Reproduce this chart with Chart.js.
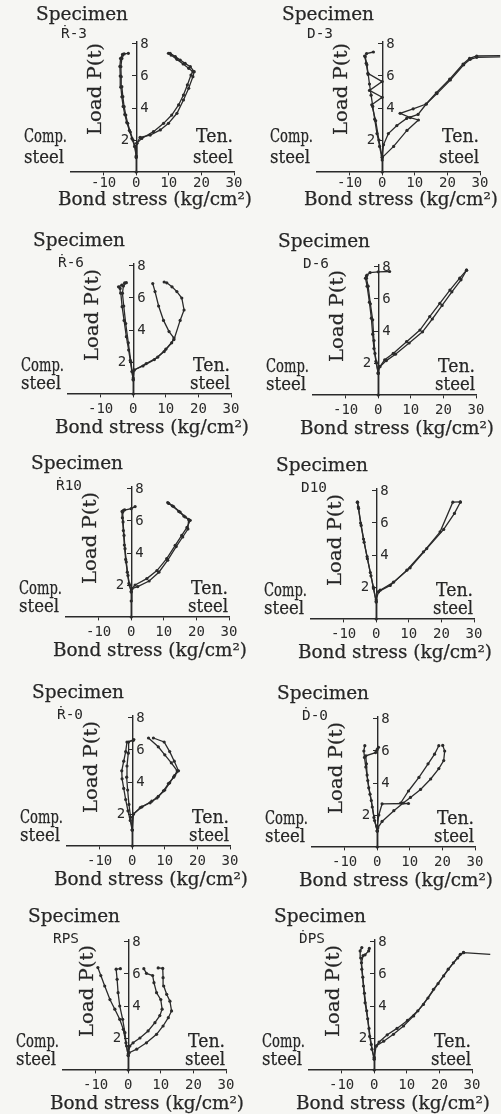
<!DOCTYPE html>
<html>
<head>
<meta charset="utf-8">
<script src="https://cdn.jsdelivr.net/npm/chart.js@4.4.0/dist/chart.umd.min.js"></script>
<style>
  body { margin: 0; background: #f6f6f3; }
  #page { position: relative; width: 501px; height: 1114px; overflow: hidden; background: #f6f6f3; }
  #page canvas { position: absolute; }
  #labels { position: absolute; left: 0; top: 0; pointer-events: none; }
  .serif { font-family: "DejaVu Serif", serif; font-size: 18px; fill: #262626; stroke: #262626; stroke-width: 0.25; }
  .mono { font-family: "DejaVu Sans Mono", monospace; font-size: 14px; fill: #262626; }
</style>
</head>
<body>
<div id="page"></div>
<script>
// bond stress (kg/cm2) vs load P (t)
const specimens = ['Ṙ-3', 'D-3', 'Ṙ-6', 'D-6', 'Ṙ10', 'D10', 'Ṙ-0', 'Ḋ-0', 'RPS', 'ḊPS'];
const xTicks = [-10, 0, 10, 20, 30];
const yTicks = [2, 4, 6, 8];

const r3Comp1 = [[0,0],[0,0.96],[-0.3,1.58],[-1.0,2.0],[-1.8,2.5],[-2.6,3.04],[-3.2,3.56],[-3.7,4.08],[-4.1,4.71],[-4.4,5.33],[-4.6,5.96],[-4.7,6.58],[-4.4,7.1],[-3.7,7.38],[-2.4,7.42]];
const r3Comp2 = [[0,1.0],[-0.5,1.6],[-1.3,2.1],[-2.1,2.6],[-2.9,3.1],[-3.5,3.6],[-4.0,4.1],[-4.4,4.7],[-4.7,5.3],[-4.9,6.0],[-5.0,6.6],[-4.8,7.1],[-4.2,7.35]];
const r3Ten1 = [[0,0.9],[0.2,1.79],[1.2,2.17],[4.3,2.31],[7.4,2.63],[9.9,3.04],[12.5,3.67],[14.5,4.5],[16.1,5.23],[17.4,5.96],[17.8,6.27],[16.6,6.58],[15.0,6.79],[13.5,7.0],[12.0,7.21],[10.4,7.42]];
const r3Ten2 = [[0.2,1.79],[1.7,2.1],[5.3,2.52],[8.4,3.04],[10.9,3.56],[13.0,4.19],[14.5,4.81],[15.7,5.44],[16.8,6.06],[17.4,6.27],[16.1,6.48],[14.4,6.75],[12.5,7.04],[10.7,7.31],[9.9,7.42]];

const d3Comp1 = [[0,0],[0,0.75],[-0.8,1.6],[-1.6,2.4],[-2.3,3.3],[-2.9,4.1],[-3.4,4.8],[-3.9,5.5],[-4.3,6.1],[-4.7,6.7],[-5.2,7.2],[-4.8,7.4],[-2.7,7.5]];
const d3Comp2 = [[0,0.9],[-1.0,2.0],[-2.0,3.2],[-3.2,4.2],[0,4.67],[-3.9,5.1],[0,5.65],[-4.4,6.17],[-4.9,6.8],[-5.4,7.25]];
const d3Ten1 = [[0,0.9],[3.5,1.6],[7.6,2.6],[11.1,3.25],[8.6,3.4],[5.5,3.67],[9.5,3.95],[13.5,4.25],[16.8,4.9],[20.9,5.75],[25,6.7],[27,7.04],[29,7.17],[36.2,7.2]];
const d3Ten2 = [[0,1.0],[0.4,1.7],[1.9,2.4],[4.5,2.9],[7.5,3.35],[11,3.6],[13.5,4.25],[16.6,4.95],[20.7,5.8],[24.8,6.75],[26.8,7.1],[29,7.25],[36.2,7.27]];

const r6Comp1 = [[0,0],[0,0.88],[-0.4,1.4],[-0.9,2.1],[-1.4,2.75],[-2.1,3.58],[-2.8,4.6],[-3.4,5.46],[-3.8,6.3],[-4.0,6.6],[-4.5,6.7],[-3.5,6.8],[-2.6,6.95]];
const r6Comp2 = [[0,0.9],[-0.7,2.0],[-1.5,3.2],[-2.3,4.4],[-2.9,5.5],[-3.3,6.3],[-3.0,6.75],[-2.1,6.96]];
const r6Ten1 = [[0,1.0],[0.3,1.5],[3,1.75],[6.5,2.15],[9.5,2.65],[11.8,3.2],[12.5,3.5],[11,3.9],[9.3,4.6],[7.8,5.5],[6.7,6.4],[6.0,6.9]];
const r6Ten2 = [[0.3,1.5],[4,1.9],[7.5,2.3],[10,2.8],[12.5,3.4],[14.4,4.6],[15.6,5.25],[14.9,6.0],[13.4,6.4],[11.9,6.7],[10.3,6.95],[9.5,7.0]];

const d6Comp1 = [[0,0],[0,1.35],[-0.5,2.0],[-1.0,2.6],[-1.3,3.4],[-1.7,4.7],[-2.4,5.7],[-3.1,6.8],[-3.6,7.3],[-3.4,7.5],[-2.5,7.65],[0,7.7],[3.5,7.72]];
const d6Comp2 = [[0,1.35],[-0.7,2.1],[-1.3,2.9],[-1.7,3.8],[-2.1,4.8],[-2.7,5.8],[-3.4,6.8],[-3.9,7.3],[-3.6,7.45]];
const d6Ten1 = [[0,1.4],[0.5,1.77],[2,2.2],[4.6,2.6],[8.7,3.33],[12.8,4.06],[15.8,4.9],[18.9,5.73],[22,6.56],[25,7.3],[27.1,7.8]];
const d6Ten2 = [[0.5,1.77],[2.5,2.15],[5.3,2.55],[9.5,3.25],[13.6,3.95],[16.6,4.75],[19.6,5.6],[22.6,6.45],[25.4,7.2],[27.1,7.8]];

const r10Comp1 = [[0,0],[0,1.56],[-0.5,2.0],[-1.0,2.6],[-1.5,3.44],[-1.9,4.27],[-2.2,5.1],[-2.5,5.94],[-2.6,6.56],[-2.35,6.67],[0,6.77],[1.2,6.9]];
const r10Comp2 = [[0,1.6],[-0.7,2.1],[-1.2,2.8],[-1.7,3.6],[-2.1,4.5],[-2.4,5.4],[-2.7,6.2],[-2.8,6.6],[-2.0,6.7]];
const r10Ten1 = [[0,1.0],[0.2,1.77],[1.2,2.0],[4.8,2.4],[7.9,2.9],[10.9,3.65],[13.5,4.48],[15.5,5.1],[17.1,5.6],[18.1,6.04],[16.6,6.25],[15,6.56],[13,6.9],[11.5,7.1]];
const r10Ten2 = [[0.2,1.77],[2.0,1.9],[5.5,2.25],[8.5,2.8],[11.2,3.55],[13.8,4.4],[15.8,5.0],[17.4,5.5],[17.6,6.1],[16.2,6.3],[14.6,6.6],[12.6,6.95],[11.2,7.15]];

const d10Comp1 = [[0,0],[0,1.06],[-0.8,1.9],[-1.6,2.7],[-2.7,3.77],[-3.7,4.8],[-4.6,5.85],[-5.4,6.9],[-5.7,7.3]];
const d10Comp2 = [[0,1.1],[-0.9,2.0],[-1.8,2.9],[-2.8,3.9],[-3.9,5.0],[-4.8,6.0],[-5.5,7.0],[-5.8,7.3]];
const d10Ten1 = [[0,1.2],[0.7,1.7],[4.3,2.1],[9.4,3.05],[14.5,4.2],[19.6,5.45],[23.5,7.3],[25.8,7.32]];
const d10Ten2 = [[0.7,1.7],[1.2,1.8],[5.3,2.3],[10.4,3.2],[15.5,4.4],[20.7,5.6],[24.0,6.6],[25.8,7.3]];

const r0Comp1 = [[0,0],[0,1.0],[-0.6,1.6],[-1.3,2.2],[-2.0,2.9],[-2.6,3.6],[-3.1,4.2],[-3.2,4.7],[-2.6,5.3],[-2.0,5.9],[-1.6,6.5],[0.3,6.6]];
const r0Comp2 = [[0,1.0],[-0.5,1.8],[-1.0,2.6],[-1.4,3.5],[-1.7,4.3],[-1.6,5.0],[-1.2,5.8],[-1.1,6.5],[0.5,6.65]];
const r0Ten1 = [[0,1.0],[0.4,2.0],[2.5,2.4],[5.5,2.7],[7.6,3.0],[9.6,3.45],[11.1,3.9],[12.7,4.3],[14.2,4.7],[12.9,5.3],[11.5,5.9],[9.8,6.5],[6.5,6.75]];
const r0Ten2 = [[0.4,2.0],[3,2.45],[6,2.8],[8,3.1],[10,3.5],[11.5,3.95],[13,4.4],[13.8,4.7],[12,5.2],[10,5.7],[8,6.2],[5,6.75]];

const d0Comp1 = [[0,0],[0,1.0],[-0.8,1.65],[-1.5,2.5],[-2.2,3.3],[-2.9,4.15],[-3.5,5.0],[-3.9,5.6],[-4.1,6.0],[-3.8,6.33]];
const d0Comp2 = [[0,1.0],[-1.0,1.85],[-1.8,2.9],[-2.6,3.7],[-3.1,4.5],[-3.3,5.2],[-3.5,5.7],[-0.5,5.9],[0,6.1],[0.4,6.23]];
const d0Ten1 = [[0,1.0],[0.2,1.2],[1.5,1.6],[5.1,2.27],[8,2.75],[10.2,3.1],[13.3,3.6],[16.4,4.25],[18.9,4.9],[20.4,5.4],[20.7,6.0],[20.1,6.35]];
const d0Ten2 = [[0,1.3],[0.5,2.0],[1.5,2.7],[9.6,2.72]];
const d0Ten3 = [[7.2,2.75],[9.6,3.5],[12.8,4.35],[15.6,5.2],[17.6,5.8],[18.9,6.33]];

const rpsComp1 = [[0,0],[0,0.9],[-0.7,1.7],[-1.5,2.54],[-2.6,3.17],[-4.1,3.8],[-5.6,4.4],[-7.2,5.25],[-8.4,5.9],[-9.3,6.4]];
const rpsComp2 = [[0,0.9],[-0.5,1.5],[-1.0,2.33],[-1.7,3.17],[-2.6,4.0],[-3.1,4.83],[-3.4,5.67],[-3.7,6.3],[-2.4,6.33]];
const rpsTen1 = [[0,1.0],[0.5,1.5],[1.5,1.7],[3.6,2.0],[6.1,2.44],[8.2,2.96],[9.7,3.4],[10.4,3.8],[10.0,4.4],[8.7,4.83],[7.9,5.46],[7.5,5.9],[5.6,6.04],[4.8,6.33]];
const rpsTen2 = [[0.3,1.08],[2.6,1.3],[5.6,1.7],[8.7,2.23],[10.7,2.75],[12.3,3.27],[13.3,3.69],[12.8,4.3],[11.8,4.73],[10.9,5.25],[10.7,5.77],[10.6,6.35],[9.2,6.38]];

const dpsComp1 = [[0,0],[0,0.67],[-0.7,1.3],[-1.4,2.1],[-2.0,3.2],[-2.8,4.2],[-3.3,5.25],[-3.8,6.3],[-4.1,7.0],[-4.3,7.44],[-3.8,7.65]];
const dpsComp2 = [[0,0.7],[-0.9,1.6],[-1.6,2.6],[-2.3,3.7],[-3.0,4.8],[-3.5,5.8],[-3.9,6.7],[-3.4,7.15],[-2.8,7.2],[-1.7,7.44],[-1.5,7.6]];
const dpsTen1 = [[0,0.8],[0.6,1.5],[2.9,1.8],[5.9,2.23],[9.0,2.75],[12.1,3.38],[15.1,4.1],[18.2,5.04],[21.3,5.88],[24.3,6.7],[26.4,7.23],[27.4,7.33],[35.6,7.23]];
const dpsTen2 = [[0.6,1.5],[1.5,1.75],[4.0,2.2],[7,2.6],[10.2,3.1],[13.4,3.7],[16.5,4.5],[19.6,5.4],[22.7,6.3],[25.6,7.0],[27.4,7.35]];

const curves = [
  [r3Comp1, r3Comp2, r3Ten1, r3Ten2],
  [d3Comp1, d3Comp2, d3Ten1, d3Ten2],
  [r6Comp1, r6Comp2, r6Ten1, r6Ten2],
  [d6Comp1, d6Comp2, d6Ten1, d6Ten2],
  [r10Comp1, r10Comp2, r10Ten1, r10Ten2],
  [d10Comp1, d10Comp2, d10Ten1, d10Ten2],
  [r0Comp1, r0Comp2, r0Ten1, r0Ten2],
  [d0Comp1, d0Comp2, d0Ten1, d0Ten2, d0Ten3],
  [rpsComp1, rpsComp2, rpsTen1, rpsTen2],
  [dpsComp1, dpsComp2, dpsTen1, dpsTen2],
];

// layout: pixel of (0, 0) for each panel, and text offsets from it
const origins = [[136,172],[382,172],[133,394],[378,395],[131,617],[376,619],[132,846],[377,847],[128,1070],[374,1070]];
const rowTop = { spec: -152, id: -134, comp: -30, steel: -9, load: -83, bond: 33, tickPad: 0 };
const rowRest = { spec: -148, id: -127, comp: -23, steel: -5, load: -79, bond: 39, tickPad: 4 };

const INK = '#2a2a2a';
const page = document.getElementById('page');

const yLabels = {
  id: 'yLabels',
  afterDraw(chart) {
    const { ctx, scales: { x, y } } = chart;
    const ax = x.getPixelForValue(0);
    ctx.save();
    ctx.font = '14px "DejaVu Sans Mono"';
    ctx.fillStyle = INK;
    ctx.textBaseline = 'middle';
    y.ticks.forEach(t => {
      const py = y.getPixelForValue(t.value);
      if (t.value === 2) {
        ctx.textAlign = 'right';
        ctx.fillText(String(t.value), ax - 7, py);
      } else {
        ctx.textAlign = 'left';
        ctx.fillText(String(t.value), ax + 4, py);
      }
    });
    ctx.restore();
  }
};

function makePanel(i) {
  const [x0, y0] = origins[i];
  const lay = i < 2 ? rowTop : rowRest;
  const cv = document.createElement('canvas');
  cv.width = 229;
  cv.height = 162;
  cv.style.left = (x0 - 105) + 'px';
  cv.style.top = (y0 - 140) + 'px';
  page.appendChild(cv);

  const datasets = curves[i].map(c => ({
    data: c.map(p => ({ x: p[0], y: p[1] })),
    showLine: true,
    borderColor: INK,
    borderWidth: 1.3,
    pointRadius: 1.6,
    pointBackgroundColor: INK,
    pointBorderWidth: 0,
    tension: 0,
    clip: false
  }));

  new Chart(cv, {
    type: 'scatter',
    data: { datasets },
    options: {
      responsive: false,
      animation: false,
      events: [],
      layout: { padding: { left: 40, right: 26, top: 10, bottom: 22 } },
      plugins: { legend: { display: false }, tooltip: { enabled: false } },
      scales: {
        x: {
          type: 'linear', min: -20, max: 30, position: { y: 0 },
          afterBuildTicks: s => { s.ticks = xTicks.map(v => ({ value: v })); },
          grid: { drawOnChartArea: false, drawTicks: true, tickLength: 3, color: INK },
          border: { display: true, color: INK, width: 1.4 },
          ticks: {
            color: INK, padding: lay.tickPad, maxRotation: 0, autoSkip: false,
            font: { family: 'DejaVu Sans Mono', size: 14 },
            callback: v => String(v)
          }
        },
        y: {
          type: 'linear', min: 0, max: 8.125, position: { x: 0 },
          afterBuildTicks: s => { s.ticks = yTicks.map(v => ({ value: v })); },
          grid: { drawOnChartArea: false, drawTicks: true, tickLength: 4, color: INK },
          border: { display: true, color: INK, width: 1.4 },
          ticks: { display: false }
        }
      }
    },
    plugins: [yLabels]
  });
}

specimens.forEach((s, i) => makePanel(i));

// titles and side notes as svg text
const NS = 'http://www.w3.org/2000/svg';
const svg = document.createElementNS(NS, 'svg');
svg.setAttribute('id', 'labels');
svg.setAttribute('width', 501);
svg.setAttribute('height', 1114);
page.appendChild(svg);

function txt(str, x, y, cls, len, anchor, rot) {
  const t = document.createElementNS(NS, 'text');
  t.setAttribute('x', x);
  t.setAttribute('y', y);
  t.setAttribute('class', cls);
  if (len) {
    t.setAttribute('textLength', len);
    t.setAttribute('lengthAdjust', 'spacingAndGlyphs');
  }
  if (anchor) t.setAttribute('text-anchor', anchor);
  if (rot) t.setAttribute('transform', `rotate(${rot} ${x} ${y})`);
  t.textContent = str;
  svg.appendChild(t);
}

specimens.forEach((name, i) => {
  const [x0, y0] = origins[i];
  const lay = i < 2 ? rowTop : rowRest;
  txt('Specimen', x0 - 100, y0 + lay.spec, 'serif', 92);
  txt(name, x0 - 75, y0 + lay.id, 'mono', 26);
  txt('Comp.', x0 - 112, y0 + lay.comp, 'serif', 43);
  txt('steel', x0 - 112, y0 + lay.steel, 'serif', 40);
  txt('Ten.', x0 + 97, y0 + lay.comp, 'serif', 37, 'end');
  txt('steel', x0 + 97, y0 + lay.steel, 'serif', 40, 'end');
  txt('Load P(t)', x0 - 35, y0 + lay.load, 'serif', 92, 'middle', -90);
  txt('Bond stress (kg/cm²)', x0 - 78, y0 + lay.bond, 'serif', 194);
});
</script>
</body>
</html>
